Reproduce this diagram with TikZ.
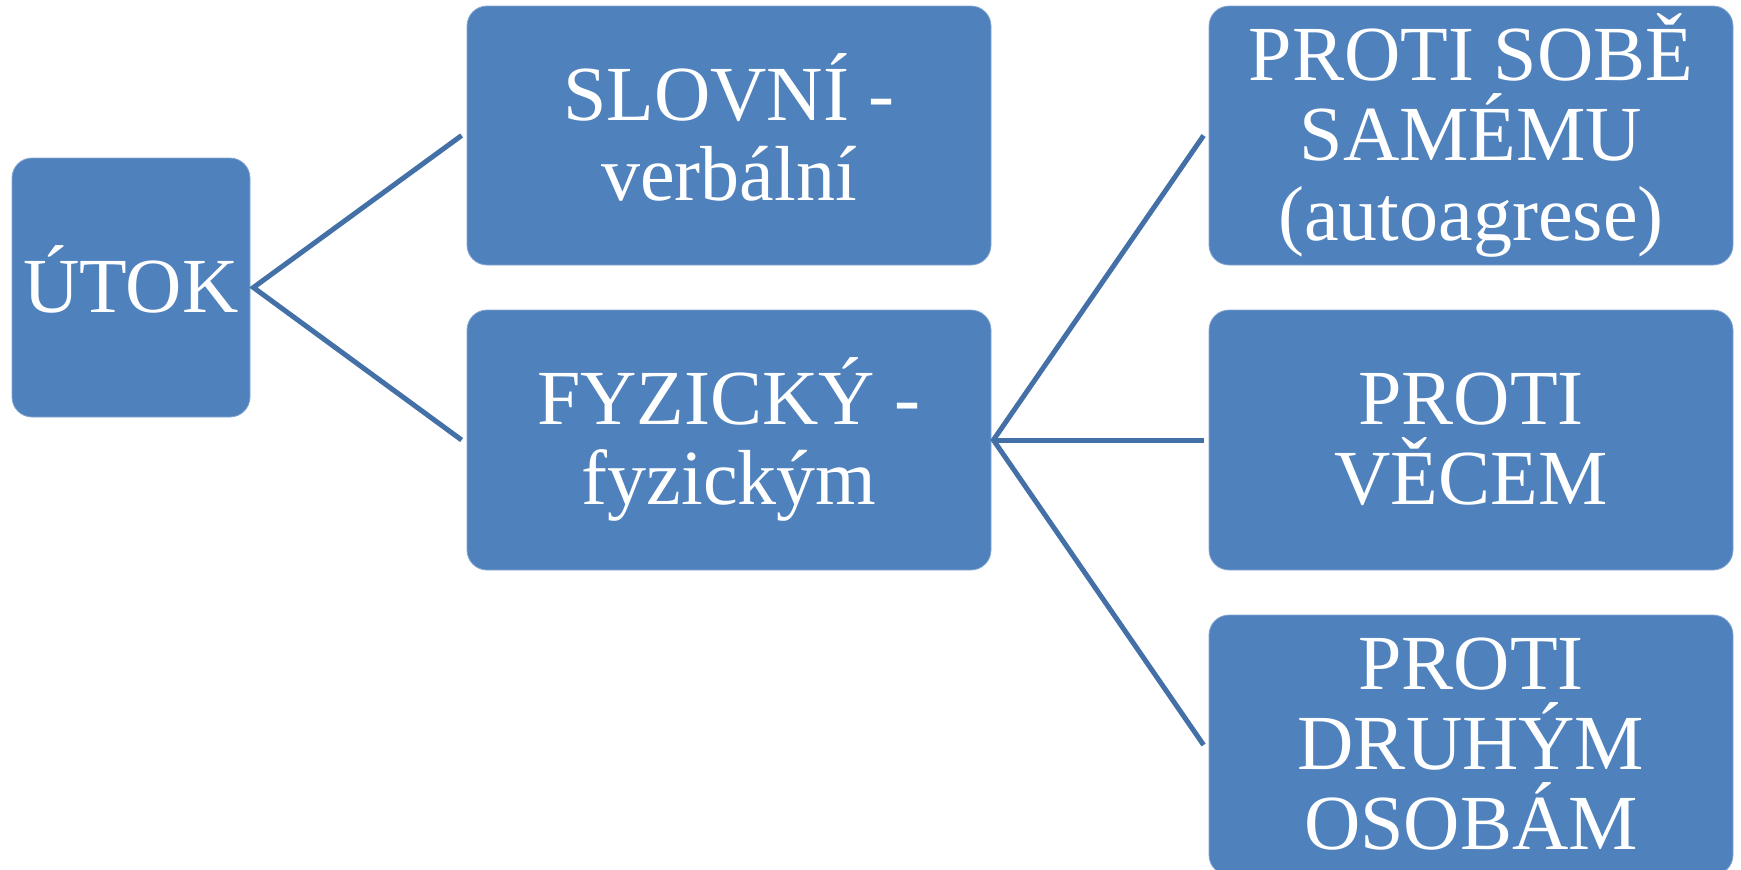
\documentclass[tikz,border=0pt]{standalone}
\usepackage{fontspec}
\setmainfont{Liberation Serif}
\usetikzlibrary{calc}
\definecolor{boxblue}{HTML}{4F81BD}
\definecolor{lineblue}{HTML}{4470A8}
\newcommand\mylines[1]{\vtop{\lineskiplimit=-200pt\baselineskip=80pt\halign{\hfil##\hfil\cr#1\crcr}}}
\begin{document}
\begin{tikzpicture}[x=1pt,y=-1pt,
  box/.style={rectangle, fill=boxblue, draw=boxblue!70!white, line width=0.8pt,
    rounded corners=20pt, minimum width=524pt, minimum height=259pt,
    inner sep=0pt, text=white, font=\fontsize{78}{80}\selectfont, text height=69pt},
  one/.style={text depth=20pt},
  two/.style={text depth=100pt},
  three/.style={text depth=180pt},
  conn/.style={draw=lineblue, line width=5pt}]
\useasboundingbox (0,0) rectangle (1741,870);
\clip (0,0) rectangle (1741,870);
\node[box, one, minimum width=238pt] (utok) at (131,287.5) {\mylines{ÚTOK}};
\node[box, two] (slovni) at (729,135.5) {\mylines{SLOVNÍ -\cr verbální}};
\node[box, two, minimum height=260pt] (fyz) at (729,440) {\mylines{FYZICKÝ -\cr fyzickým}};
\node[box, three] (sobe) at (1471,135.5) {\mylines{PROTI SOBĚ\cr SAMÉMU\cr (autoagrese)}};
\node[box, two, minimum height=260pt] (veci) at (1471,440) {\mylines{PROTI\cr VĚCEM}};
\node[box, three, minimum height=260pt] (druhym) at (1471,745) {\mylines{PROTI\cr DRUHÝM\cr OSOBÁM}};
\coordinate (u-out) at ([xshift=3pt]utok.east);
\coordinate (s-in) at ([xshift=-5pt]slovni.west);
\coordinate (f-in) at ([xshift=-5pt]fyz.west);
\coordinate (f-out) at ([xshift=2pt]fyz.east);
\coordinate (so-in) at ([xshift=-5pt]sobe.west);
\coordinate (v-in) at ([xshift=-5pt]veci.west);
\coordinate (d-in) at ([xshift=-5pt]druhym.west);
\draw[conn] (s-in) -- (u-out) -- (f-in);
\draw[conn] (so-in) -- (f-out) -- (d-in);
\draw[conn] (f-out) -- (v-in);
\end{tikzpicture}
\end{document}
